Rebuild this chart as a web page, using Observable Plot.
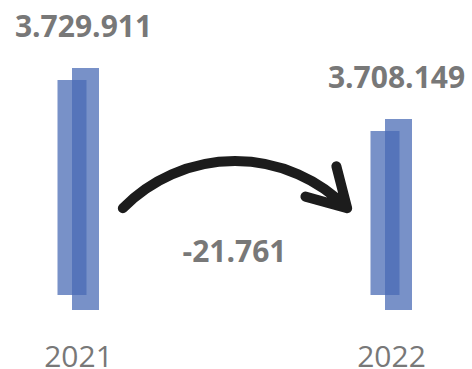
<!DOCTYPE html>
<html>
<head>
<meta charset="utf-8">
<script src="https://cdn.jsdelivr.net/npm/d3@7"></script>
<script src="https://cdn.jsdelivr.net/npm/@observablehq/plot@0.6"></script>
<style>
  html, body { margin: 0; padding: 0; background: #fff; }
  #chart { width: 472px; height: 369px; overflow: hidden; }
</style>
</head>
<body>
<div id="chart"></div>
<script>
// ---- data ----
const years = [2021, 2022];
const totals = [3729911, 3708149];
const changeValue = -21761;
const yDomain = [3626600, 3758900]; // truncated value axis

const locale = d3.formatLocale({decimal: ",", thousands: ".", grouping: [3], currency: ["", ""], minus: "-"});
const fmt = locale.format(",d");

const rows = years.map((year, i) => ({year, total: totals[i]}));

const barColor = "#496bb5";
const textColor = "#787878";

const chart = Plot.plot({
  width: 472,
  height: 369,
  margin: 0,
  style: {fontFamily: "'Open Sans', sans-serif", background: "#fff"},
  x: {type: "point", domain: years, range: [78, 391], padding: 0, axis: null},
  y: {domain: yDomain, range: [310, 0], axis: null},
  marks: [
    // two overlapping hand-drawn strokes per bar
    Plot.ruleX(rows, {x: "year", y1: "total", y2: () => yDomain[0], stroke: barColor, strokeOpacity: 0.74,
      strokeWidth: 29, dx: -6.5, insetTop: 12, insetBottom: 15}),
    Plot.ruleX(rows, {x: "year", y1: "total", y2: () => yDomain[0], stroke: barColor, strokeOpacity: 0.74,
      strokeWidth: 27, dx: 7}),
    // value labels
    Plot.text(rows, {x: "year", y: "total", text: d => fmt(d.total), lineAnchor: "bottom", dy: -31, dx: 5,
      fontSize: 30, fontWeight: "bold", fill: textColor}),
    // year labels
    Plot.text(rows, {x: "year", text: d => String(d.year), frameAnchor: "bottom", lineAnchor: "bottom", dy: -3, dx: 0,
      fontSize: 30, fill: textColor}),
    // change label
    Plot.text([changeValue], {text: d => fmt(d), frameAnchor: "middle", lineAnchor: "bottom", dy: 77, dx: -2,
      fontSize: 30, fontWeight: "bold", fill: textColor}),
    // curved arrow
    Plot.arrow([years], {x1: d => d[0], x2: d => d[1], y1: () => yDomain[0], y2: () => yDomain[0], dy: -6,
      bend: 85, insetStart: 106, insetEnd: 106, stroke: "#1c1c1c", strokeWidth: 10, headLength: 6.5,
      strokeLinecap: "round", strokeLinejoin: "round"})
  ]
});

document.getElementById("chart").appendChild(chart);
</script>
</body>
</html>
